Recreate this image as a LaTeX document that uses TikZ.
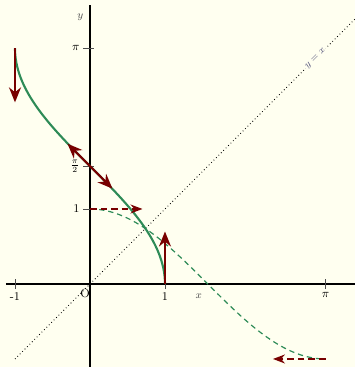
\documentclass[tikz,border=0pt]{standalone}
\usetikzlibrary{arrows.meta}
\definecolor{bg}{RGB}{255,255,240}
\definecolor{curvegreen}{RGB}{46,139,87}
\definecolor{arrred}{RGB}{120,0,0}
\definecolor{lblue}{RGB}{80,80,120}
\tikzset{
  axis/.style={line width=1.4pt,black},
  tick/.style={line width=0.6pt,black!70},
  ticklbl/.style={font=\small,inner sep=1pt},
  maincurve/.style={line width=1.6pt,curvegreen},
  invcurve/.style={line width=0.9pt,curvegreen,dash pattern=on 4pt off 3pt},
  vec/.style={line width=1.6pt,arrred,-{Stealth[length=4mm,width=3.2mm]}},
  dvec/.style={line width=1.1pt,arrred,dash pattern=on 5pt off 3pt,-{Stealth[length=3.2mm,width=2.4mm]}},
  axlbl/.style={font=\footnotesize,text=black!70,inner sep=1pt}
}
\begin{document}
\begin{tikzpicture}[x=2cm,y=2cm]
\fill[bg] (-1.2,-1.107) rectangle (3.533,3.787);
\useasboundingbox (-1.2,-1.107) rectangle (3.533,3.787);
% dotted y=x
\coordinate (dA) at (-1,-1);
\coordinate (dB) at (3.53,3.53);
\draw[dotted,line width=0.6pt] (dA) -- (dB) node[pos=0.885,sloped,fill=bg,inner sep=1pt,font=\scriptsize,text=lblue] (yx) {$y=x$};
% axes
\coordinate (xl) at (-1.12,0);
\coordinate (xr) at (3.533,0);
\coordinate (yb) at (0,-1.107);
\coordinate (yt) at (0,3.72);
\draw[axis] (xl) -- (xr);
\draw[axis] (yb) -- (yt);
% ticks x
\foreach \v/\n/\l in {-1/tm1/-1, 1/t1/1, pi/tpi/$\pi$}{
  \draw[tick] (\v,-0.07) -- (\v,0.07);
  \node[ticklbl,below] (\n) at (\v,-0.09) {\l};
}
\node[ticklbl,below left] (O) at (0.02,-0.05) {O};
% ticks y
\draw[tick] (-0.09,1) -- (0.06,1);
\draw[tick] (-0.09,pi/2) -- (0.06,pi/2);
\draw[tick] (-0.09,pi) -- (0.06,pi);
\node[ticklbl,left] (ly1) at (-0.12,1) {1};
\node[ticklbl,left] (lypi2) at (-0.12,pi/2) {$\frac{\pi}{2}$};
\node[ticklbl,left] (lypi) at (-0.12,pi) {$\pi$};
\node[axlbl] (ylab) at (-0.13,3.56) {$y$};
\node[axlbl] (xlab) at (1.45,-0.16) {$x$};
% cos curve (dashed)
\draw[invcurve] plot[domain=0:pi,samples=80] (\x,{cos(\x r)});
% arccos curve
\draw[maincurve] plot[domain=0:pi,samples=120] ({cos(\x r)},\x);
% arrows
\coordinate (a1s) at (-1,pi);
\coordinate (a1e) at (-1,{pi-0.72});
\draw[vec] (a1s) -- (a1e);
\coordinate (a2s) at (1,0);
\coordinate (a2e) at (1,0.7);
\draw[vec] (a2s) -- (a2e);
\coordinate (a3c) at (0,pi/2);
\coordinate (a3u) at (-0.3,{pi/2+0.3});
\coordinate (a3d) at (0.3,{pi/2-0.3});
\draw[vec,{Stealth[length=4mm,width=3.2mm]}-{Stealth[length=4mm,width=3.2mm]}] (a3u) -- (a3d);
\coordinate (a4s) at (0,1);
\coordinate (a4e) at (0.7,1);
\draw[dvec] (a4s) -- (a4e);
\coordinate (a5s) at (pi,-1);
\coordinate (a5e) at (2.44,-1);
\draw[dvec] (a5s) -- (a5e);
\end{tikzpicture}
\end{document}
